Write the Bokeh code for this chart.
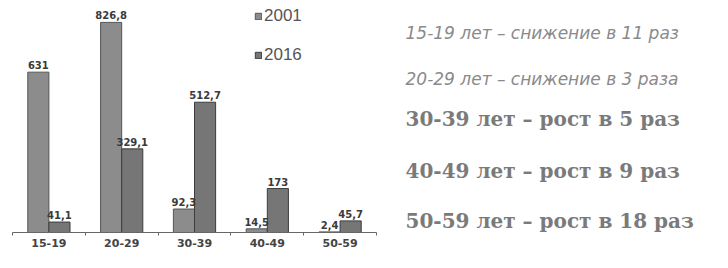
from bokeh.plotting import figure
from bokeh.models import (ColumnDataSource, Range1d, FixedTicker, Legend, LegendItem,
                          Label, LabelSet)
from bokeh.core.properties import value
from bokeh.layouts import row
from bokeh.embed import file_html
from bokeh.resources import INLINE

categories = ["15-19", "20-29", "30-39", "40-49", "50-59"]
values_2001 = [631, 826.8, 92.3, 14.5, 2.4]
values_2016 = [41.1, 329.1, 512.7, 173, 45.7]
series_names = ["2001", "2016"]
notes_italic = ["15-19 лет – снижение в 11 раз", "20-29 лет – снижение в 3 раза"]
notes_bold = ["30-39 лет – рост в 5 раз", "40-49 лет – рост в 9 раз", "50-59 лет – рост в 18 раз"]


def fmt(v):
    return f"{v:g}".replace(".", ",")


centers = [i + 0.5 for i in range(len(categories))]
bw = 0.29
src1 = ColumnDataSource(dict(x=[c - bw / 2 for c in centers], top=values_2001,
                             lab=[fmt(v) for v in values_2001]))
src2 = ColumnDataSource(dict(x=[c + bw / 2 for c in centers], top=values_2016,
                             lab=[fmt(v) for v in values_2016]))

FRAME_H = 232  # 252 - min_border_bottom

p = figure(width=390, height=252, output_backend="svg", toolbar_location=None,
           x_range=Range1d(0, len(categories)), y_range=Range1d(0, 913),
           min_border_left=12, min_border_right=14, min_border_top=0, min_border_bottom=20)
p.outline_line_color = None
p.grid.visible = False
p.yaxis.visible = False
p.background_fill_color = "white"

r1 = p.vbar(x="x", top="top", width=bw, source=src1, fill_color="#8c8c8c",
            line_color="#555555", line_width=1)
r2 = p.vbar(x="x", top="top", width=bw, source=src2, fill_color="#767676",
            line_color="#3c3c3c", line_width=1)

for s in (src1, src2):
    ls = LabelSet(x="x", y="top", text="lab", source=s, text_align="center",
                  text_baseline="bottom", y_offset=3, text_font=value("DejaVu Sans"),
                  text_font_style="bold", text_font_size="10px", text_color="#3a3a3a")
    p.add_layout(ls)

xa = p.xaxis[0]
xa.ticker = FixedTicker(ticks=centers, minor_ticks=list(range(len(categories) + 1)))
xa.major_label_overrides = {c: cat for c, cat in zip(centers, categories)}
xa.major_tick_line_color = None
xa.major_tick_out = 0
xa.major_tick_in = 0
xa.minor_tick_out = 3
xa.minor_tick_in = 0
xa.minor_tick_line_color = "#666666"
xa.axis_line_color = "#666666"
xa.major_label_text_font = "DejaVu Sans"
xa.major_label_text_font_style = "bold"
xa.major_label_text_font_size = "11px"
xa.major_label_text_color = "#444444"
xa.major_label_standoff = 3

legend = Legend(items=[LegendItem(label=series_names[0], renderers=[r1]),
                       LegendItem(label=series_names[1], renderers=[r2])],
                location=(242, FRAME_H - 65), orientation="vertical",
                background_fill_alpha=0, border_line_color=None,
                glyph_width=8, glyph_height=8, label_height=20, spacing=19,
                padding=0, margin=0, label_standoff=2,
                label_text_font="Liberation Sans", label_text_font_size="17px",
                label_text_color="#555555")
p.add_layout(legend)

q = figure(width=322, height=252, output_backend="svg", toolbar_location=None,
           x_range=Range1d(0, 1), y_range=Range1d(0, 1),
           min_border_left=0, min_border_right=0, min_border_top=0, min_border_bottom=20)
q.outline_line_color = None
q.grid.visible = False
q.axis.visible = False

centers_y_italic = [32, 78]
centers_y_bold = [118, 170, 220]
for t, c in zip(notes_italic, centers_y_italic):
    q.add_layout(Label(x=15, y=FRAME_H - c, x_units="screen", y_units="screen", text=t,
                       text_font="DejaVu Sans", text_font_style="italic",
                       text_font_size="17px", text_color="#8a8a8a",
                       text_baseline="middle"))
for t, c in zip(notes_bold, centers_y_bold):
    q.add_layout(Label(x=15, y=FRAME_H - c, x_units="screen", y_units="screen", text=t,
                       text_font="DejaVu Serif", text_font_style="bold",
                       text_font_size="20px", text_color="#7a7a7a",
                       text_baseline="middle"))

layout = row(p, q)
open("out.html", "w").write(file_html(layout, INLINE))
